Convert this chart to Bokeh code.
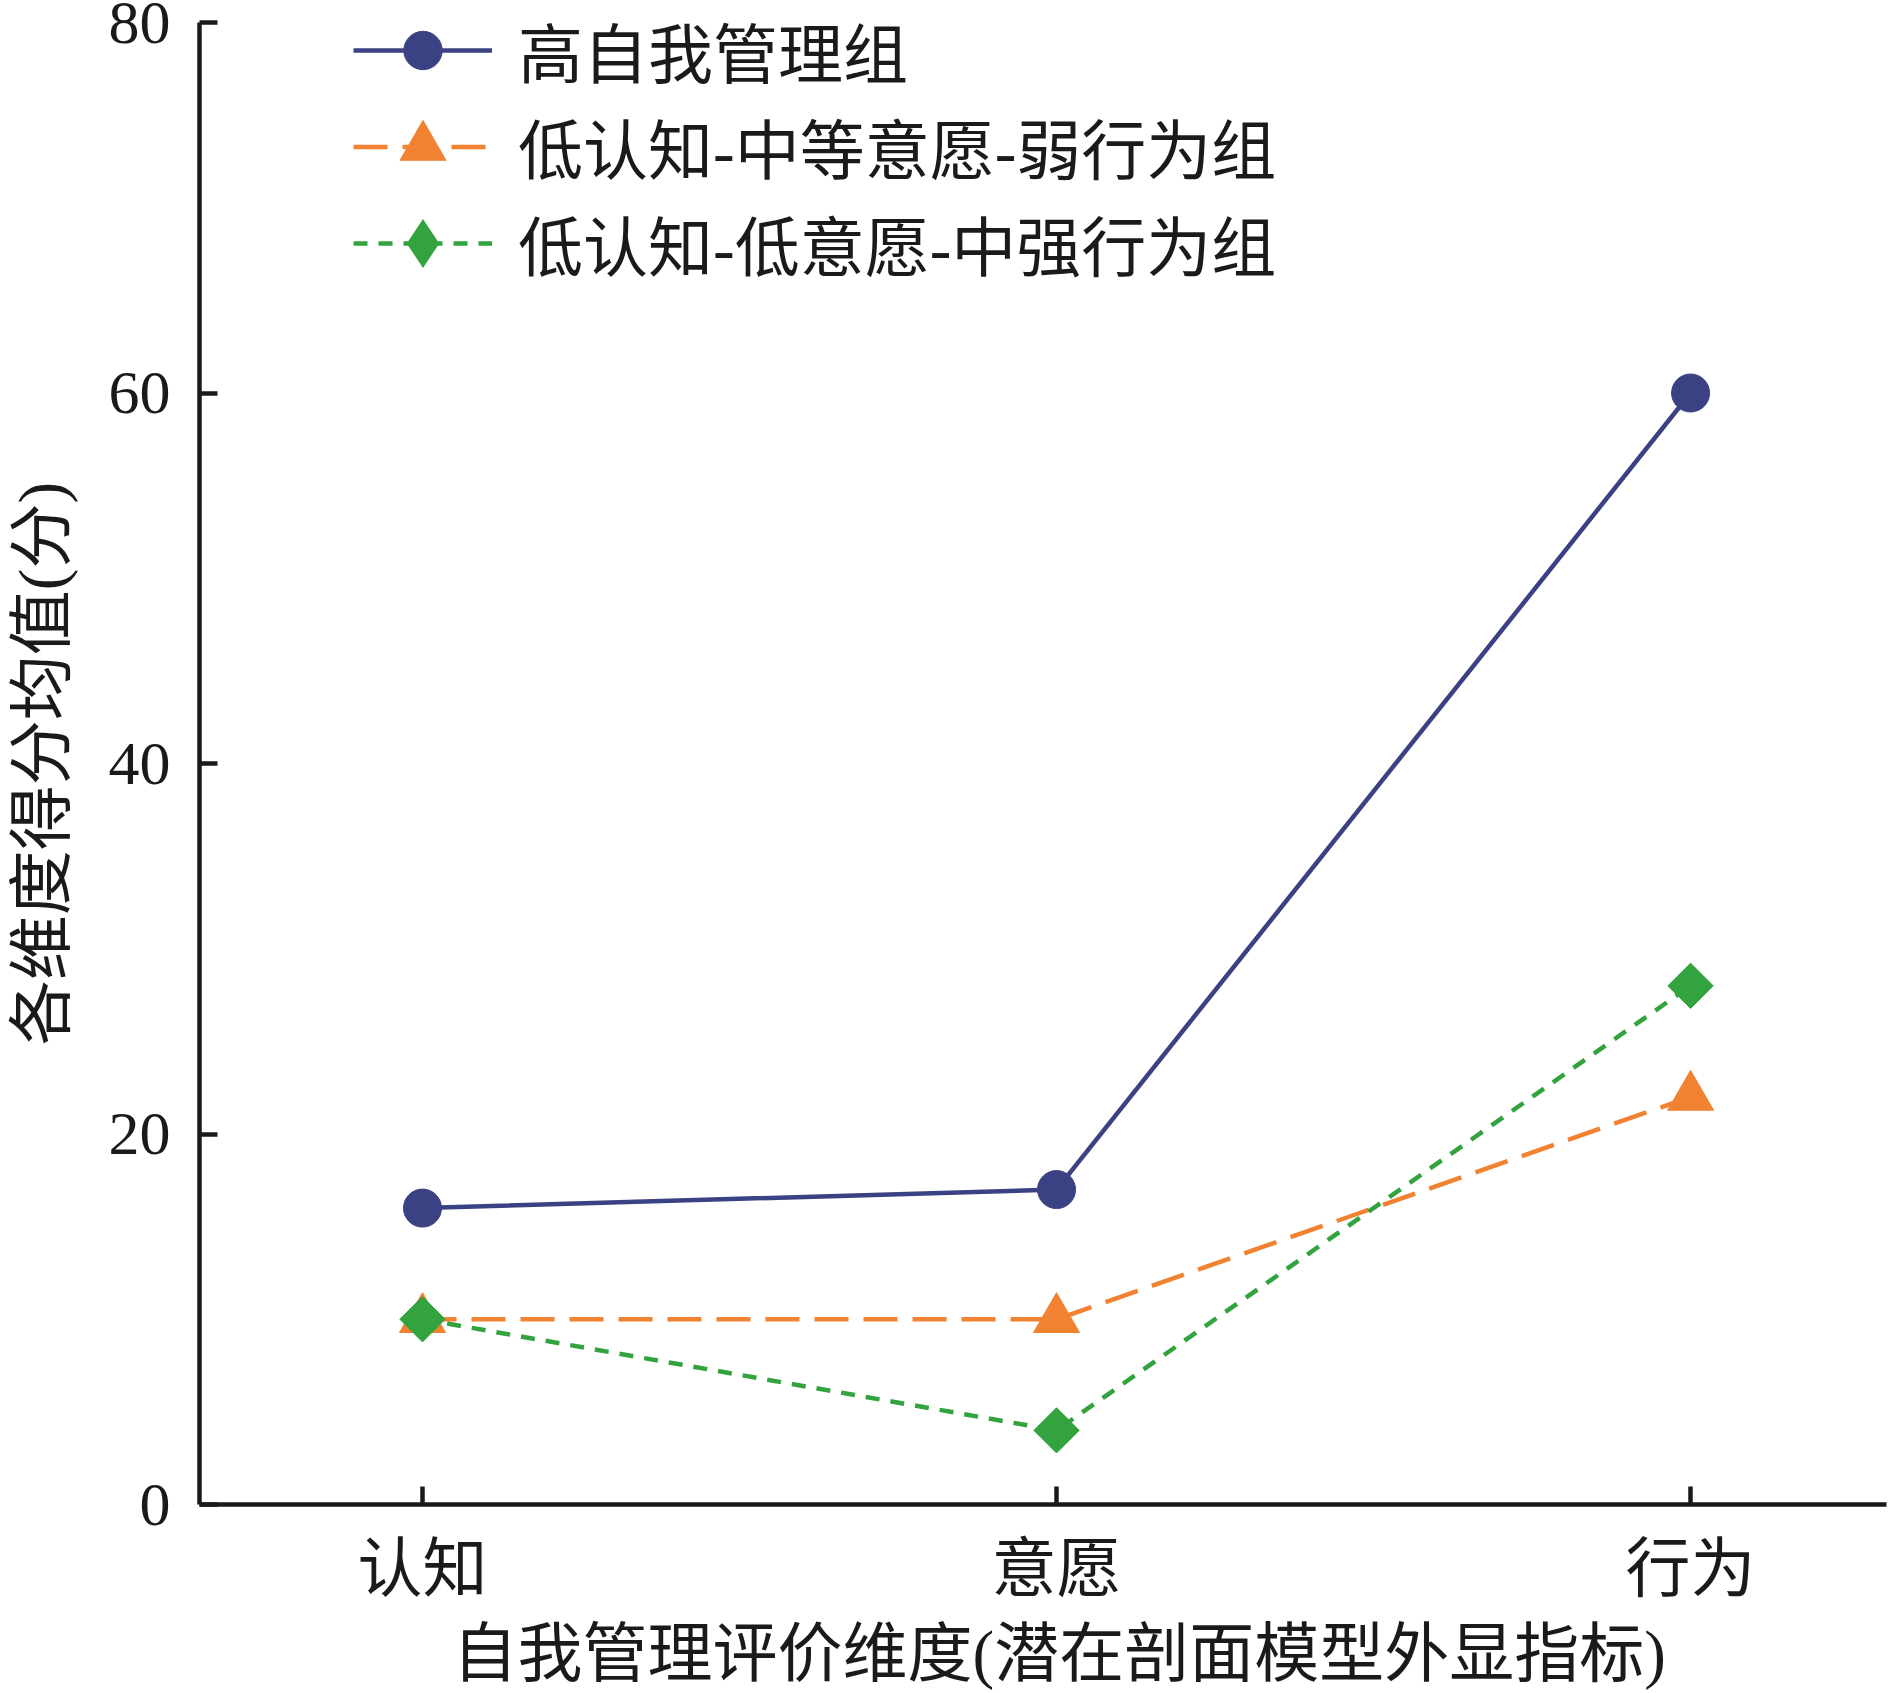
import math
from bokeh.plotting import figure
from bokeh.models import Legend, LegendItem, FixedTicker, Range1d
from bokeh.embed import file_html
from bokeh.resources import INLINE

# ---- data ----
categories = ["认知", "意愿", "行为"]
high_self_mgmt = [16, 17, 60]
low_mid_weak = [10, 10, 22]
low_low_midstrong = [10, 4, 28]
series_names = ["高自我管理组", "低认知-中等意愿-弱行为组", "低认知-低意愿-中强行为组"]
y_ticks = [0, 20, 40, 60, 80]
x_title = "自我管理评价维度(潜在剖面模型外显指标)"
y_title = "各维度得分均值(分)"

BLUE = "#3b4283"
ORANGE = "#f08231"
GREEN = "#32a33e"
INK = "#1a1a1a"
FONT = "Liberation Serif, Noto Sans CJK SC"

xs = list(range(len(categories)))

p = figure(width=1890, height=1693, output_backend="svg", toolbar_location=None,
           x_range=Range1d(-0.3517, 2.309), y_range=Range1d(0, 80),
           min_border_left=199, min_border_right=4, min_border_top=22,
           min_border_bottom=189)
p.outline_line_color = None
p.grid.visible = False
p.background_fill_color = "white"
p.border_fill_color = "white"

# series 1
l1 = p.line(xs, high_self_mgmt, line_color=BLUE, line_width=4.5)
m1 = p.scatter(xs, high_self_mgmt, marker="circle", size=38,
               fill_color=BLUE, line_color=BLUE)
# series 2
l2 = p.line(xs, low_mid_weak, line_color=ORANGE, line_width=4.5, line_dash="34 15")
m2 = p.scatter(xs, low_mid_weak, marker="triangle", size=46,
               fill_color=ORANGE, line_color=ORANGE)
# series 3
l3 = p.line(xs, low_low_midstrong, line_color=GREEN, line_width=4.5, line_dash="14 11")
m3 = p.scatter(xs, low_low_midstrong, marker="square", size=32, angle=math.pi / 4,
               fill_color=GREEN, line_color=GREEN)
# legend glyph for series 3 (zero size on the plot, legend sizes it itself)
d3 = p.scatter(xs, low_low_midstrong, marker="diamond", size=0,
               fill_color=GREEN, line_color=None)

# legends (one per row so each marker keeps its own size)
rows = [((l1, m1), 96, 1406.5), ((l2, m2), 115, 1300.5), ((l3, d3), 122, 1200.5)]
for name, (rends, gh, vy) in zip(series_names, rows):
    leg = Legend(items=[LegendItem(label=name, renderers=list(rends))],
                 location=(154, vy), glyph_width=139, glyph_height=gh,
                 padding=0, margin=0, spacing=0,
                 label_standoff=26, border_line_color=None,
                 background_fill_alpha=0,
                 label_text_font=FONT, label_text_font_size="65px",
                 label_text_color=INK)
    p.add_layout(leg)

# axes
for ax in (p.xaxis[0], p.yaxis[0]):
    ax.axis_line_width = 4.5
    ax.axis_line_color = INK
    ax.major_tick_line_width = 4.5
    ax.major_tick_line_color = INK
    ax.major_tick_in = 18
    ax.major_tick_out = 0
    ax.minor_tick_line_color = None
    ax.major_label_text_color = INK
    ax.axis_label_text_color = INK
    ax.axis_label_text_font = FONT
    ax.axis_label_text_font_size = "65px"
    ax.axis_label_text_font_style = "normal"

p.xaxis.ticker = FixedTicker(ticks=xs)
p.xaxis.major_label_overrides = {i: c for i, c in zip(xs, categories)}
p.xaxis.major_label_text_font = FONT
p.xaxis.major_label_text_font_size = "65px"
p.xaxis.major_label_standoff = 28
# leading en space nudges the centred title to sit under the middle category
p.xaxis.axis_label = "\u2002" + x_title
p.xaxis.axis_label_standoff = 10

p.yaxis.ticker = FixedTicker(ticks=y_ticks)
p.yaxis.major_label_text_font = FONT
p.yaxis.major_label_text_font_size = "62px"
p.yaxis.major_label_standoff = 29
p.yaxis.axis_label = y_title
p.yaxis.axis_label_standoff = 28

open("out.html", "w").write(file_html(p, INLINE))
